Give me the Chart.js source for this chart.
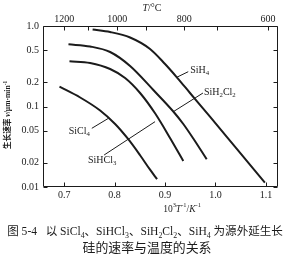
<!DOCTYPE html>
<html><head><meta charset="utf-8">
<script src="https://cdn.jsdelivr.net/npm/chart.js@4/dist/chart.umd.min.js"></script>
<style>html,body{margin:0;padding:0;background:#fff;}canvas{display:block;}</style>
</head><body>
<canvas id="c" width="290" height="264"></canvas>
<script>
// ---- data ----
const xTicks = [0.7, 0.8, 0.9, 1.0, 1.1];
const xTickLabels = ['0.7', '0.8', '0.9', '1.0', '1.1'];
const yTicks = [0.01, 0.02, 0.05, 0.1, 0.2, 0.5, 1.0];
const yTickLabels = ['0.01', '0.02', '0.05', '0.1', '0.2', '0.5', '1.0'];
const topTickPos = [0.700, 0.748, 0.805, 0.863, 0.938, 1.003, 1.104];
const topTickLabels = ['1200', '', '1000', '', '800', '', '600'];

const sih4X = [0.7564, 0.7911, 0.8307, 0.8703, 0.9000, 0.9238, 0.9495, 0.9891, 1.0386, 1.0980];
const sih4Y = [0.905, 0.842, 0.720, 0.518, 0.337, 0.229, 0.1472, 0.0747, 0.03167, 0.01131];

const sih2cl2X = [0.7085, 0.7515, 0.7911, 0.8307, 0.8768, 0.9164, 0.9362, 0.9560, 0.9826];
const sih2cl2Y = [0.5925, 0.5563, 0.4753, 0.3184, 0.1603, 0.0867, 0.0606, 0.0400, 0.0221];

const sihcl3X = [0.7105, 0.7515, 0.7911, 0.8208, 0.8505, 0.8802, 0.9099, 0.9362];
const sihcl3Y = [0.3642, 0.3470, 0.2922, 0.2259, 0.1472, 0.0823, 0.0406, 0.0210];

const sicl4X = [0.6907, 0.7317, 0.7713, 0.8010, 0.8267, 0.8505, 0.8703, 0.8842];
const sicl4Y = [0.1762, 0.1294, 0.0892, 0.0606, 0.0395, 0.0248, 0.0164, 0.0125];

// series labels and leader lines (data units)
const seriesNames = ['SiH_4', 'SiH_2Cl_2', 'SiHCl_3', 'SiCl_4'];
const leaderFromX = [0.9232, 0.9164, 0.8802, 0.7877];
const leaderFromY = [0.2306, 0.0862, 0.0648, 0.0713];
const leaderToX = [0.946, 0.9752, 0.7792, 0.7548];
const leaderToY = [0.2706, 0.147, 0.02497, 0.0536];

const xTitle = '10^{3}*T*^{-1}/*K*^{-1}';
const yTitle = '生长速率 *v*/μm·min^{-1}';
const topTitle = '*T*/°C';
const caption1 = '图 5-4   以 SiCl_4、SiHCl_3、SiH_2Cl_2、SiH_4 为源外延生长';
const caption2 = '硅的速率与温度的关系';

function pts(xs, ys) { return xs.map((v, i) => ({ x: v, y: ys[i] })); }

// ---- rich text helper: _d subscript, ^{..} superscript, *..* italic ----
function parseRich(s) {
  const runs = []; let italic = false; let buf = '';
  const push = (t, st) => { if (t) runs.push({ t, st, it: italic }); };
  for (let i = 0; i < s.length; i++) {
    const c = s[i];
    if (c === '*') { push(buf, 'n'); buf = ''; italic = !italic; }
    else if (c === '_') { push(buf, 'n'); buf = ''; push(s[i + 1], 'sub'); i++; }
    else if (c === '^' && s[i + 1] === '{') {
      push(buf, 'n'); buf = '';
      const j = s.indexOf('}', i);
      push(s.slice(i + 2, j), 'sup'); i = j;
    } else buf += c;
  }
  push(buf, 'n');
  return runs;
}
function fontFor(r, size, weight) {
  const sz = r.st === 'n' ? size : size * 0.68;
  return (r.it ? 'italic ' : '') + (weight || 'normal') + ' ' + sz.toFixed(2) + 'px "Liberation Serif", "Noto Sans CJK SC", serif';
}
function richWidth(ctx, runs, size, weight) {
  let w = 0;
  for (const r of runs) { ctx.font = fontFor(r, size, weight); w += ctx.measureText(r.t).width; }
  return w;
}
function drawRich(ctx, s, x, y, size, align, weight, fitWidth) {
  const runs = parseRich(s);
  if (fitWidth) { const w0 = richWidth(ctx, runs, size, weight); size = size * fitWidth / w0; }
  const w = richWidth(ctx, runs, size, weight);
  let cx = align === 'center' ? x - w / 2 : align === 'right' ? x - w : x;
  ctx.textBaseline = 'middle'; ctx.textAlign = 'left';
  for (const r of runs) {
    ctx.font = fontFor(r, size, weight);
    const dy = r.st === 'sub' ? size * 0.3 : r.st === 'sup' ? -size * 0.35 : 0;
    ctx.fillText(r.t, cx, y + dy);
    cx += ctx.measureText(r.t).width;
  }
}

const INK = '#1b1b1b';

const deco = {
  id: 'deco',
  afterDraw(chart) {
    const { ctx, chartArea: a, scales: { x, y } } = chart;
    ctx.save();
    ctx.strokeStyle = INK; ctx.fillStyle = INK; ctx.lineWidth = 1;
    const L = Math.round(a.left) + 0.5, R = Math.round(a.right) - 0.5;
    const T = Math.round(a.top) + 0.5, B = Math.round(a.bottom) - 0.5;
    ctx.beginPath();
    ctx.moveTo(L, T); ctx.lineTo(R, T); ctx.lineTo(R, B); ctx.lineTo(L, B); ctx.closePath();
    ctx.stroke();
    const tl = 4;
    ctx.beginPath();
    xTicks.forEach(v => { const px = Math.round(x.getPixelForValue(v)) + 0.5; ctx.moveTo(px, B); ctx.lineTo(px, B - tl); });
    topTickPos.forEach(v => { const px = Math.round(x.getPixelForValue(v)) + 0.5; ctx.moveTo(px, T); ctx.lineTo(px, T + tl); });
    yTicks.forEach(v => {
      const py = Math.round(y.getPixelForValue(v)) + 0.5;
      ctx.moveTo(L, py); ctx.lineTo(L + tl, py);
      ctx.moveTo(R, py); ctx.lineTo(R - tl, py);
    });
    ctx.stroke();
    // tick labels
    xTicks.forEach((v, i) => drawRich(ctx, xTickLabels[i], x.getPixelForValue(v), a.bottom + 8, 10, 'center'));
    topTickPos.forEach((v, i) => { if (topTickLabels[i]) drawRich(ctx, topTickLabels[i], x.getPixelForValue(v), a.top - 7, 10, 'center'); });
    yTicks.forEach((v, i) => drawRich(ctx, yTickLabels[i], a.left - 4, y.getPixelForValue(v), 10, 'right'));
    // titles
    drawRich(ctx, xTitle, 182, a.bottom + 22, 9.5, 'center');
    drawRich(ctx, topTitle, 152, 8, 10, 'center');
    ctx.save();
    ctx.translate(8, 115); ctx.rotate(-Math.PI / 2);
    drawRich(ctx, yTitle, 0, 0, 9, 'center', 'bold', 68);
    ctx.restore();
    // leader lines + series labels
    ctx.lineWidth = 1;
    seriesNames.forEach((n, i) => {
      const x0 = x.getPixelForValue(leaderFromX[i]), y0 = y.getPixelForValue(leaderFromY[i]);
      const x1 = x.getPixelForValue(leaderToX[i]), y1 = y.getPixelForValue(leaderToY[i]);
      ctx.beginPath(); ctx.moveTo(x0, y0); ctx.lineTo(x1, y1); ctx.stroke();
    });
    const p = (i) => [x.getPixelForValue(leaderToX[i]), y.getPixelForValue(leaderToY[i])];
    let q;
    q = p(0); drawRich(ctx, seriesNames[0], q[0] + 2, q[1] - 1, 10, 'left');
    q = p(1); drawRich(ctx, seriesNames[1], q[0] + 1, q[1] - 1, 10, 'left');
    q = p(2); drawRich(ctx, seriesNames[2], q[0] - 2, q[1] + 5, 10, 'center');
    q = p(3); drawRich(ctx, seriesNames[3], q[0] - 2, q[1] + 3, 10, 'right');
    // caption
    drawRich(ctx, caption1, 145, 232, 13, 'center', 'normal', 276);
    drawRich(ctx, caption2, 147, 249, 13, 'center', 'normal', 129);
    ctx.restore();
  }
};

const lineStyle = { borderColor: INK, borderWidth: 2, pointRadius: 0, fill: false, cubicInterpolationMode: 'monotone', clip: false };

new Chart(document.getElementById('c'), {
  type: 'line',
  data: {
    datasets: [
      Object.assign({ label: 'SiH4', data: pts(sih4X, sih4Y) }, lineStyle),
      Object.assign({ label: 'SiH2Cl2', data: pts(sih2cl2X, sih2cl2Y) }, lineStyle),
      Object.assign({ label: 'SiHCl3', data: pts(sihcl3X, sihcl3Y) }, lineStyle),
      Object.assign({ label: 'SiCl4', data: pts(sicl4X, sicl4Y) }, lineStyle)
    ]
  },
  options: {
    responsive: false, devicePixelRatio: 1, animation: false,
    layout: { padding: { left: 43, right: 12, top: 26, bottom: 77 } },
    plugins: { legend: { display: false }, tooltip: { enabled: false } },
    scales: {
      x: { type: 'linear', min: 0.658, max: 1.124, display: false },
      y: { type: 'logarithmic', min: 0.01, max: 1, display: false }
    }
  },
  plugins: [deco]
});
</script>
</body></html>
